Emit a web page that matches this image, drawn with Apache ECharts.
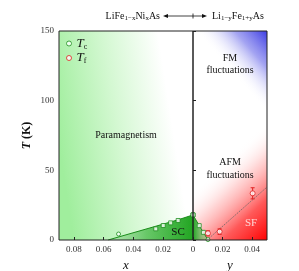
<!DOCTYPE html>
<html><head><meta charset="utf-8">
<script src="https://cdn.jsdelivr.net/npm/echarts@6/dist/echarts.min.js"></script>
<style>html,body{margin:0;padding:0;background:#fff}#c{width:299px;height:271px}</style>
</head><body><div id="c"></div>
<script>
// ---- data ----
const xTicksLeft = [0, 0.02, 0.04, 0.06, 0.08];
const yTicks = [0, 50, 100, 150];
const tcLeftX = [0.05, 0.025, 0.02, 0.015, 0.01, 0];
const tcLeftT = [4.3, 8.0, 10.4, 12.3, 14.0, 18.0];
const tcRightY = [0, 0.0042, 0.007, 0.0101];
const tcRightT = [18.0, 10.3, 5.5, 0.3];
const scLeftEdgeX = [0.057, 0.01, 0];
const scLeftEdgeT = [0, 14.5, 18.0];
const scRightEdgeY = [0, 0.0042, 0.007, 0.0101];
const scRightEdgeT = [18.0, 10.3, 5.5, 0];
const tfY = [0.0101, 0.018, 0.0403];
const tfT = [4.8, 6.0, 33.5];
const tfErr = [1.8, 2.0, 4.0];
const tfFitY = [0.0095, 0.05];
const tfFitT = [0, 38];

const SERIF = "'Liberation Serif','DejaVu Serif',serif";
const G = echarts.graphic;
const pairs = (a, b) => a.map((v, i) => [v, b[i]]);

const chart = echarts.init(document.getElementById('c'), null, {renderer: 'canvas'});
const axisLab = {fontFamily: SERIF, fontSize: 9, color: '#333'};
const fmt = v => String(+v.toFixed(2));

const option = {
  animation: false,
  backgroundColor: '#fff',
  grid: [
    {left: 59, top: 31, width: 134, height: 209, show: true, z: 6, backgroundColor: 'transparent', borderColor: '#222', borderWidth: 1, outerBoundsMode: 'none', containLabel: false},
    {left: 193, top: 31, width: 74, height: 209, show: true, z: 6, backgroundColor: 'transparent', borderColor: '#222', borderWidth: 1, outerBoundsMode: 'none', containLabel: false}
  ],
  xAxis: [
    {type: 'value', gridIndex: 0, min: 0, max: 0.09, interval: 0.02, inverse: true, z: 6,
     axisLine: {show: false}, splitLine: {show: false},
     axisTick: {inside: true, length: 3, lineStyle: {color: '#222'}},
     axisLabel: Object.assign({margin: 5, formatter: fmt, showMaxLabel: false}, axisLab),
     name: '{i|x}', nameLocation: 'middle', nameGap: 18,
     nameTextStyle: {rich: {i: {fontFamily: SERIF, fontStyle: 'italic', fontSize: 13, color: '#111'}}}},
    {type: 'value', gridIndex: 1, min: 0, max: 0.05, interval: 0.02, z: 6,
     axisLine: {show: false}, splitLine: {show: false},
     axisTick: {inside: true, length: 3, lineStyle: {color: '#222'}},
     axisLabel: Object.assign({margin: 5, formatter: v => v === 0 ? '' : fmt(v), showMaxLabel: false}, axisLab),
     name: '{i|y}', nameLocation: 'middle', nameGap: 18,
     nameTextStyle: {rich: {i: {fontFamily: SERIF, fontStyle: 'italic', fontSize: 13, color: '#111'}}}}
  ],
  yAxis: [
    {type: 'value', gridIndex: 0, min: 0, max: 150, interval: 50, z: 6,
     axisLine: {show: false}, splitLine: {show: false},
     axisTick: {inside: true, length: 3, lineStyle: {color: '#222'}},
     axisLabel: Object.assign({margin: 5}, axisLab),
     name: '{i|T} (K)', nameLocation: 'middle', nameGap: 26, nameRotate: 90,
     nameTextStyle: {fontFamily: SERIF, fontWeight: 'bold', fontSize: 12, color: '#111',
       rich: {i: {fontFamily: SERIF, fontStyle: 'italic', fontWeight: 'bold', fontSize: 12, color: '#111'}}}},
    {type: 'value', gridIndex: 1, min: 0, max: 150, interval: 50, z: 6,
     axisLine: {show: false}, splitLine: {show: false}, axisTick: {show: false}, axisLabel: {show: false}}
  ],
  legend: {
    orient: 'vertical', left: 61, top: 32, itemWidth: 5, itemHeight: 5, itemGap: 1,
    data: [
      {name: 'Tc', icon: 'circle', itemStyle: {color: '#fff', borderColor: '#1f8f1f', borderWidth: 1}},
      {name: 'Tf', icon: 'circle', itemStyle: {color: '#fff', borderColor: '#e02020', borderWidth: 1}}
    ],
    formatter: n => n === 'Tc' ? '{t|T}{s|c}' : '{t|T}{s|f}',
    textStyle: {padding: [0, 0, 0, 0], rich: {
      t: {fontFamily: SERIF, fontStyle: 'italic', fontSize: 13, lineHeight: 14, color: '#111'},
      s: {fontFamily: SERIF, fontSize: 8, lineHeight: 14, verticalAlign: 'bottom', color: '#111'}
    }}
  },
  series: [
    // left background (paramagnetism)
    {type: 'line', xAxisIndex: 0, yAxisIndex: 0, data: [[0, 0]], symbol: 'none', lineStyle: {opacity: 0}, silent: true, z: 1,
     markArea: {silent: true, itemStyle: {color: new G.LinearGradient(0, 0.55, 1, 0.45, [
        {offset: 0, color: '#a0ee9d'}, {offset: 0.45, color: '#d4f8d2'}, {offset: 0.85, color: '#ffffff'}])},
       data: [[{coord: [0.09, 150]}, {coord: [0, 0]}]]}},
    // right background (FM / AFM)
    {type: 'line', xAxisIndex: 1, yAxisIndex: 1, data: [[0, 0]], symbol: 'none', lineStyle: {opacity: 0}, silent: true, z: 1,
     markArea: {silent: true, data: [
       [{coord: [0, 150], itemStyle: {color: new G.LinearGradient(1, 0, 0.45, 0.17, [
          {offset: 0, color: '#3c3ce4'}, {offset: 0.45, color: 'rgba(115,115,235,0.65)'}, {offset: 1, color: 'rgba(255,255,255,0)'}])}},
        {coord: [0.05, 0]}],
       [{coord: [0, 150], itemStyle: {color: new G.LinearGradient(1, 1, 0.2, 0.7, [
          {offset: 0, color: '#ff0000'}, {offset: 0.35, color: 'rgba(255,60,60,0.85)'}, {offset: 0.7, color: 'rgba(255,170,170,0.5)'}, {offset: 1, color: 'rgba(255,255,255,0)'}])}},
        {coord: [0.05, 0]}]
     ]}},
    // SC dome left
    {type: 'line', xAxisIndex: 0, yAxisIndex: 0, data: pairs(scLeftEdgeX, scLeftEdgeT), symbol: 'none', z: 3,
     lineStyle: {color: '#1a8c1a', width: 1},
     areaStyle: {opacity: 1, origin: 'start', color: new G.LinearGradient(0, 0, 1, 0, [
       {offset: 0, color: 'rgba(120,200,120,0.25)'}, {offset: 0.45, color: '#68c868'}, {offset: 1, color: '#22a522'}])}},
    // SC dome right
    {type: 'line', xAxisIndex: 1, yAxisIndex: 1, data: pairs(scRightEdgeY, scRightEdgeT), symbol: 'none', z: 3,
     lineStyle: {color: '#1a8c1a', width: 1},
     areaStyle: {opacity: 1, origin: 'start', color: new G.LinearGradient(0, 0, 1, 0, [
       {offset: 0, color: '#22a522'}, {offset: 1, color: 'rgba(140,210,140,0.5)'}])}},
    // Tf fit line
    {type: 'line', xAxisIndex: 1, yAxisIndex: 1, data: pairs(tfFitY, tfFitT), symbol: 'none', z: 3,
     lineStyle: {color: '#666', width: 0.8, type: [1.5, 1]}},
    // Tc points left
    {name: 'Tc', type: 'scatter', xAxisIndex: 0, yAxisIndex: 0, data: pairs(tcLeftX, tcLeftT), z: 5,
     symbol: (v, p) => p.dataIndex === 0 ? 'circle' : 'rect', symbolSize: 4,
     itemStyle: {color: '#fff', borderColor: '#1f8f1f', borderWidth: 1}},
    // Tc points right
    {name: 'Tc', type: 'scatter', xAxisIndex: 1, yAxisIndex: 1, data: pairs(tcRightY, tcRightT), z: 5,
     symbol: (v, p) => p.dataIndex === tcRightY.length - 1 ? 'circle' : 'rect', symbolSize: 4,
     itemStyle: {color: '#fff', borderColor: '#1f8f1f', borderWidth: 1}},
    // Tf error bars
    {type: 'custom', xAxisIndex: 1, yAxisIndex: 1, z: 5, silent: true,
     data: tfY.map((v, i) => [v, tfT[i], tfErr[i]]),
     renderItem: (params, api) => {
       const x = api.value(0), y = api.value(1), e = api.value(2);
       const a = api.coord([x, y + e]), b = api.coord([x, y - e]);
       const st = {stroke: '#e02020', lineWidth: 1};
       return {type: 'group', children: [
         {type: 'line', shape: {x1: a[0], y1: a[1], x2: b[0], y2: b[1]}, style: st},
         {type: 'line', shape: {x1: a[0] - 2, y1: a[1], x2: a[0] + 2, y2: a[1]}, style: st},
         {type: 'line', shape: {x1: b[0] - 2, y1: b[1], x2: b[0] + 2, y2: b[1]}, style: st}
       ]};
     }},
    // Tf points
    {name: 'Tf', type: 'scatter', xAxisIndex: 1, yAxisIndex: 1, data: pairs(tfY, tfT), z: 6,
     symbol: 'circle', symbolSize: 5,
     itemStyle: {color: '#fff', borderColor: '#e02020', borderWidth: 1}}
  ],
  graphic: [
    {type: 'text', z: 10, style: {x: 160, y: 16, align: 'right', verticalAlign: 'middle',
      text: '{n|LiFe}{s|1−x}{n|Ni}{s|x}{n|As}',
      rich: {n: {fontFamily: SERIF, fontSize: 10, lineHeight: 12, fill: '#111'},
             s: {fontFamily: SERIF, fontSize: 7, lineHeight: 12, verticalAlign: 'bottom', fill: '#111'}}}},
    {type: 'text', z: 10, style: {x: 212, y: 16, align: 'left', verticalAlign: 'middle',
      text: '{n|Li}{s|1−y}{n|Fe}{s|1+y}{n|As}',
      rich: {n: {fontFamily: SERIF, fontSize: 10, lineHeight: 12, fill: '#111'},
             s: {fontFamily: SERIF, fontSize: 7, lineHeight: 12, verticalAlign: 'bottom', fill: '#111'}}}},
    {type: 'line', z: 10, shape: {x1: 166, y1: 16, x2: 204, y2: 16}, style: {stroke: '#111', lineWidth: 0.8}},
    {type: 'line', z: 10, shape: {x1: 193, y1: 13.5, x2: 193, y2: 18.5}, style: {stroke: '#111', lineWidth: 0.8}},
    {type: 'polygon', z: 10, shape: {points: [[163, 16], [168, 14], [168, 18]]}, style: {fill: '#111'}},
    {type: 'polygon', z: 10, shape: {points: [[207, 16], [202, 14], [202, 18]]}, style: {fill: '#111'}},
    {type: 'text', z: 10, style: {x: 126, y: 135, align: 'center', verticalAlign: 'middle', text: 'Paramagnetism',
      fontFamily: SERIF, fontSize: 10, fill: '#111'}},
    {type: 'text', z: 10, style: {x: 230, y: 64.5, align: 'center', verticalAlign: 'middle', text: 'FM\nfluctuations',
      fontFamily: SERIF, fontSize: 10, lineHeight: 12.5, fill: '#111'}},
    {type: 'text', z: 10, style: {x: 230, y: 169, align: 'center', verticalAlign: 'middle', text: 'AFM\nfluctuations',
      fontFamily: SERIF, fontSize: 10, lineHeight: 12.5, fill: '#111'}},
    {type: 'text', z: 10, style: {x: 178, y: 232, align: 'center', verticalAlign: 'middle', text: 'SC',
      fontFamily: SERIF, fontSize: 11, fill: '#111'}},
    {type: 'text', z: 10, style: {x: 251, y: 223, align: 'center', verticalAlign: 'middle', text: 'SF',
      fontFamily: SERIF, fontSize: 11, fill: '#ffd6d6'}}
  ]
};
chart.setOption(option);
</script></body></html>
